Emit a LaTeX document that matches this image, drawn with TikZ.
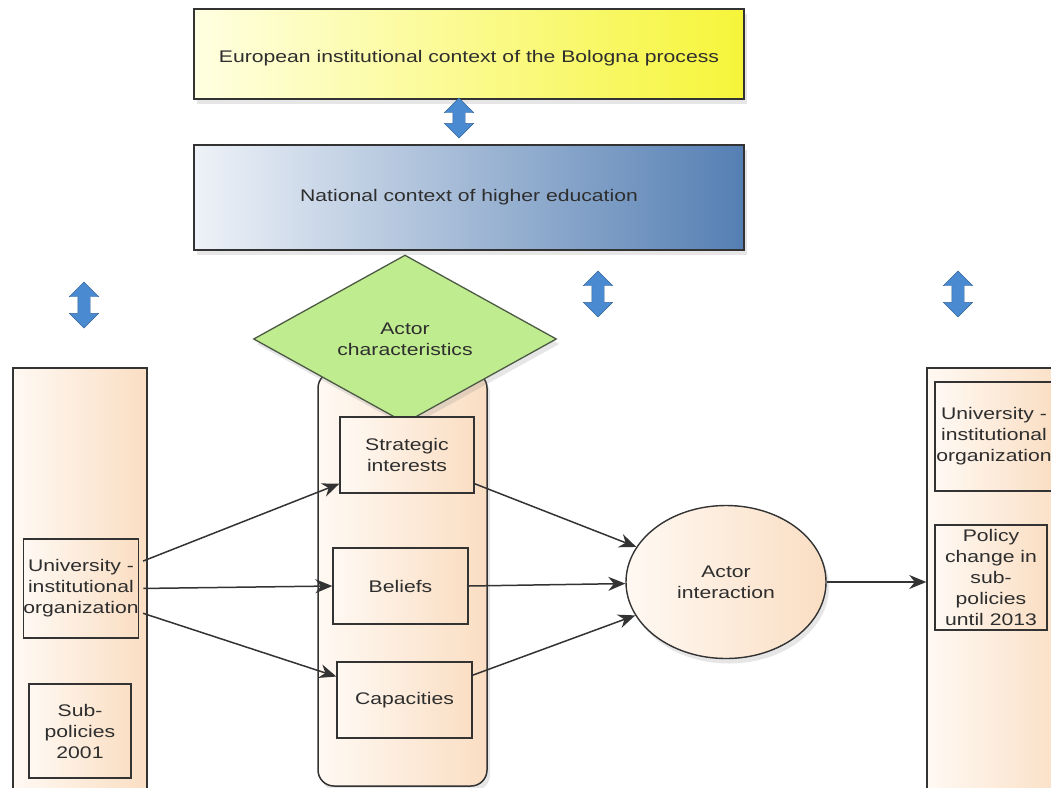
\documentclass[tikz,border=0pt]{standalone}
\usepackage{fontspec}
\setmainfont{Liberation Sans}[FakeStretch=1.26]
\usetikzlibrary{shapes.geometric,shapes.arrows,arrows.meta,shadows}

\definecolor{boxline}{HTML}{333333}
\definecolor{textgray}{HTML}{2E2E2E}
\definecolor{peach}{HTML}{FADEC3}
\definecolor{peachlight}{HTML}{FFF9F3}
\definecolor{yellowlight}{HTML}{FFFFE2}
\definecolor{yellowmid}{HTML}{FFFFA6}
\definecolor{yellowdark}{HTML}{F6F53A}
\definecolor{bluelight}{HTML}{EEF2F8}
\definecolor{bluemid}{HTML}{BACADF}
\definecolor{bluedark}{HTML}{557FB3}
\definecolor{leafgreen}{HTML}{C0EC90}
\definecolor{leafline}{HTML}{4C5A44}
\definecolor{arrowblue}{HTML}{4A8AD0}

\tikzset{
  every node/.style={font=\fontsize{16.8}{21}\selectfont, text=textgray},
  softshadow/.style={drop shadow={opacity=0.2, fill=gray, shadow xshift=3pt, shadow yshift=-5pt}},
  contextbox/.style={draw=boxline, line width=1.5pt, minimum width=550, minimum height=90, softshadow},
  column/.style={draw=boxline, line width=1.5pt, left color=peachlight, right color=peach},
  itembox/.style={draw=boxline, line width=1.3pt, left color=peachlight, right color=peach,
    minimum width=134, minimum height=76, align=center, inner sep=0pt},
  twoway/.style={double arrow, draw=arrowblue!75!black, fill=arrowblue, rotate=90,
    minimum height=46, inner xsep=0pt, inner ysep=6pt, double arrow head extend=8.5pt},
  flow/.style={draw=boxline, line width=1.5pt, -{Stealth[length=17pt,width=14pt]}}
}

\begin{document}
\begin{tikzpicture}[x=1pt,y=-1pt]
  \useasboundingbox (0,0) rectangle (1051,787);
  \clip (0,0) rectangle (1051,787);

  % context on top
  \node[contextbox, left color=yellowlight, middle color=yellowmid, right color=yellowdark,
        minimum height=90] (europe) at (469,54) {};
  \node at (469,58) {European institutional context of the Bologna process};
  \node[contextbox, left color=bluelight, middle color=bluemid, right color=bluedark,
        minimum height=105] (national) at (469,197.5) {National context of higher education};

  \node[twoway, minimum height=40] (eu2nat) at (459,118) {};
  \node[twoway] (natleft) at (84,305) {};
  \node[twoway] (natmid) at (598,294) {};
  \node[twoway] (natright) at (958,294) {};

  % three columns
  \node[column, minimum width=134, minimum height=432] (lcol) at (80,584) {};
  \node[column, rounded corners=16pt, minimum width=169, minimum height=414, softshadow] (mid) at (402.5,579) {};
  \node[column, minimum width=143, minimum height=432] (rcol) at (998.5,584) {};

  \node[diamond, draw=leafline, line width=1.3pt, fill=leafgreen, minimum width=303,
        minimum height=126, inner sep=0pt, align=center, softshadow] (traits) at (405,339)
        {Actor\\characteristics};

  % before
  \node[itembox, minimum width=114, minimum height=99] (univ) at (81,588.5)
        {University -\\institutional\\organization};
  \node[itembox, minimum width=102, minimum height=94] (subpol) at (80,731)
        {Sub-\\policies\\2001};

  % actors
  \node[itembox] (strat) at (407,455) {Strategic\\interests};
  \node[itembox, minimum width=135] (belief) at (400.5,586) {Beliefs};
  \node[itembox, minimum width=135] (cap) at (404.5,700) {Capacities};

  \node[ellipse, draw=boxline, line width=1.4pt, left color=peachlight, right color=peach,
        minimum width=200, minimum height=153, inner sep=0pt, align=center, softshadow]
        (inter) at (726,582) {Actor\\interaction};

  % after
  \node[itembox, minimum width=118, minimum height=109] (univnew) at (994,436.5)
        {University -\\institutional\\organization};
  \node[itembox, minimum width=112, minimum height=105] (change) at (991,577.5)
        {Policy\\change in\\sub-\\policies\\until 2013};

  % connectors
  \draw[flow, shorten <=4pt] (univ.24) -- (strat.203);
  \draw[flow, shorten <=4pt] (univ.east) -- (belief.west);
  \draw[flow, shorten <=4pt] (univ.-22) -- (cap.161);
  \draw[flow] (strat.-23) -- (inter);
  \draw[flow] (belief.east) -- (inter);
  \draw[flow] (cap.20) -- (inter);
  \draw[flow] (inter) -- (inter -| rcol.west);
\end{tikzpicture}
\end{document}
